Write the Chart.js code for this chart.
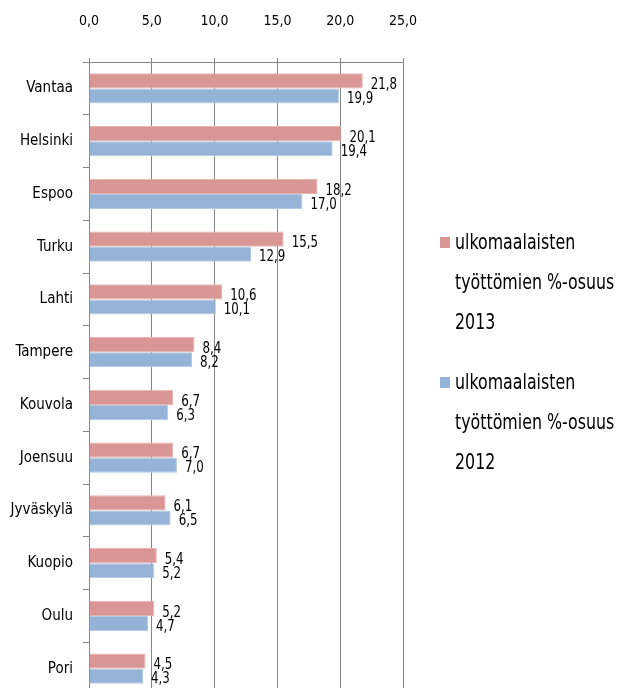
<!DOCTYPE html>
<html>
<head>
<meta charset="utf-8">
<script src="https://cdn.jsdelivr.net/npm/chart.js@4"></script>
<style>
  html, body { margin: 0; padding: 0; background: #fff; overflow: hidden; }
  canvas { display: block; }
</style>
</head>
<body>
<!-- alareuna jatkuu hieman ikkunan ulkopuolelle kuten alkuperäisessä -->
<canvas id="barChart" width="618" height="695"></canvas>
<script>
const cities = ['Vantaa', 'Helsinki', 'Espoo', 'Turku', 'Lahti', 'Tampere', 'Kouvola', 'Joensuu', 'Jyväskylä', 'Kuopio', 'Oulu', 'Pori'];
const share2013 = [21.8, 20.1, 18.2, 15.5, 10.6, 8.4, 6.7, 6.7, 6.1, 5.4, 5.2, 4.5];
const share2012 = [19.9, 19.4, 17.0, 12.9, 10.1, 8.2, 6.3, 7.0, 6.5, 5.2, 4.7, 4.3];
const legend2013 = ['ulkomaalaisten', 'työttömien %-osuus', '2013'];
const legend2012 = ['ulkomaalaisten', 'työttömien %-osuus', '2012'];

const FONT = "'Liberation Sans Narrow', 'DejaVu Sans Condensed', sans-serif";
const fmt = v => v.toFixed(1).replace('.', ',');

// kapeampi teksti (Calibrin tapaan)
function narrowText(c, text, x, y, sx) {
  c.save();
  c.translate(x, y);
  c.scale(sx, 1);
  c.fillText(text, 0, 0);
  c.restore();
}

// arvot palkkien perään
const valueLabels = {
  id: 'valueLabels',
  afterDatasetsDraw(chart) {
    const c = chart.ctx;
    c.save();
    c.font = '16px ' + FONT;
    c.fillStyle = '#000';
    c.textBaseline = 'middle';
    c.textAlign = 'left';
    chart.data.datasets.forEach((ds, i) => {
      chart.getDatasetMeta(i).data.forEach((bar, j) => {
        narrowText(c, fmt(ds.data[j]), bar.x + 8, bar.y + (i === 0 ? 4 : 3), 0.82);
      });
    });
    c.restore();
  }
};

// oma selite oikealle, monirivinen
const sideLegend = {
  id: 'sideLegend',
  afterDraw(chart) {
    const c = chart.ctx;
    c.save();
    c.font = '22px ' + FONT;
    c.textBaseline = 'middle';
    c.textAlign = 'left';
    const items = [[legend2013, '#D99694', 243], [legend2012, '#95B3D7', 383]];
    items.forEach(([lines, col, y0]) => {
      c.fillStyle = col;
      c.fillRect(440, y0 - 6, 10, 11);
      c.fillStyle = '#000';
      lines.forEach((t, k) => narrowText(c, t, 455, y0 + k * 40, 0.8));
    });
    c.restore();
  }
};

const ctx = document.getElementById('barChart').getContext('2d');
const barChart = new Chart(ctx, {
  type: 'bar',
  data: {
    labels: cities,
    datasets: [{
      label: legend2013.join(' '),
      data: share2013,
      backgroundColor: '#D99694',
      borderColor: '#E6B3B1',
      borderWidth: 1
    }, {
      label: legend2012.join(' '),
      data: share2012,
      backgroundColor: '#95B3D7',
      borderColor: '#B3C9E4',
      borderWidth: 1
    }]
  },
  options: {
    responsive: false,
    indexAxis: 'y',
    animation: false,
    layout: { padding: { left: 0, right: 215, top: 10, bottom: 0 } },
    datasets: { bar: { categoryPercentage: 0.57, barPercentage: 1.0 } },
    plugins: {
      legend: { display: false },
      tooltip: { enabled: false }
    },
    scales: {
      x: {
        position: 'top',
        min: 0,
        max: 25,
        afterFit: s => { s.height = 52; },
        ticks: {
          stepSize: 5,
          color: '#000',
          font: { family: FONT, size: 14 },
          padding: 28,
          callback: v => fmt(v)
        },
        grid: { color: '#868686', tickLength: 4 },
        border: { color: '#868686' }
      },
      y: {
        afterFit: s => {
          s.width = 89;
          s.paddingTop = 0;
          s.paddingBottom = 0;
        },
        ticks: {
          color: '#000',
          font: { family: FONT, size: 15 },
          padding: 10
        },
        grid: { offset: true, drawOnChartArea: false, tickLength: 6, color: '#868686' },
        border: { color: '#868686' }
      }
    }
  },
  plugins: [valueLabels, sideLegend]
});
</script>
</body>
</html>
